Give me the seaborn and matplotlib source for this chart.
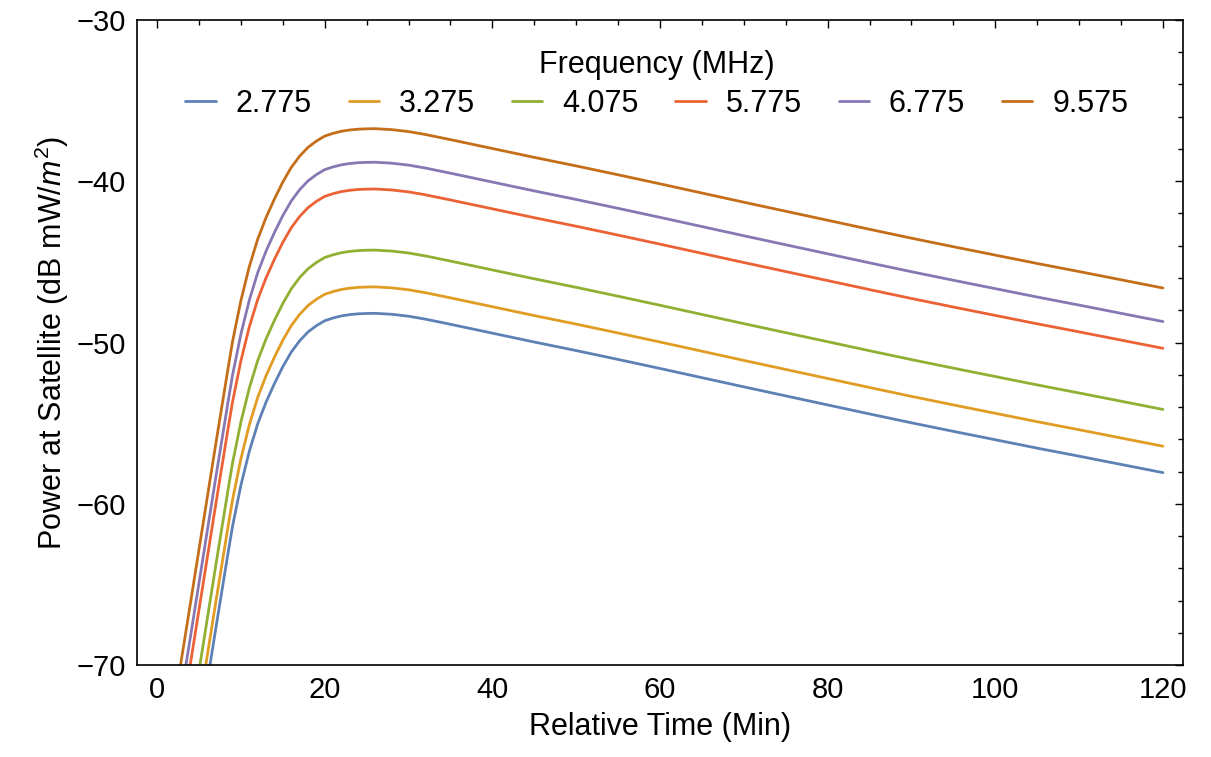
import matplotlib
matplotlib.use("Agg")
import matplotlib.pyplot as plt
from matplotlib.ticker import MultipleLocator
import pandas as pd
import seaborn as sns

# ---- data ----
frequencies = ["2.775", "3.275", "4.075", "5.775", "6.775", "9.575"]
line_colors = ["#5E81B5", "#E19C24", "#8FB032", "#EB6235", "#8778B3", "#C56E1A"]

time_min = [2.8, 4, 5.5, 7, 8.5, 9, 10, 11, 12, 13, 14, 15, 16, 17, 18, 19, 20,
            21, 22, 23, 24, 25, 26, 28, 30, 32, 35, 40, 45, 50, 55, 60, 65, 70,
            75, 80, 85, 90, 95, 100, 105, 110, 115, 120]

power_2775 = [-81.45, -77.55, -72.65, -67.75, -62.95, -61.4, -58.85, -56.75, -55.05,
              -53.7, -52.55, -51.5, -50.6, -49.9, -49.35, -48.96, -48.65,
              -48.48, -48.35, -48.27, -48.22, -48.2, -48.19, -48.25, -48.37, -48.55,
              -48.87, -49.42, -49.97, -50.5, -51.05, -51.61, -52.18, -52.75,
              -53.31, -53.87, -54.43, -54.98, -55.51, -56.03, -56.55, -57.05, -57.56, -58.07]
power_3275 = [-79.81, -75.91, -71.01, -66.11, -61.31, -59.76, -57.21, -55.11, -53.41,
              -52.06, -50.91, -49.86, -48.96, -48.26, -47.71, -47.32, -47.01,
              -46.84, -46.71, -46.63, -46.58, -46.56, -46.55, -46.61, -46.73, -46.91,
              -47.23, -47.78, -48.33, -48.86, -49.41, -49.97, -50.54, -51.11,
              -51.67, -52.23, -52.79, -53.34, -53.87, -54.39, -54.91, -55.41, -55.92, -56.43]
power_4075 = [-77.53, -73.63, -68.73, -63.83, -59.03, -57.48, -54.93, -52.83, -51.13,
              -49.78, -48.63, -47.58, -46.68, -45.98, -45.43, -45.04, -44.73,
              -44.56, -44.43, -44.35, -44.3, -44.28, -44.27, -44.33, -44.45, -44.63,
              -44.95, -45.5, -46.05, -46.58, -47.13, -47.69, -48.26, -48.83,
              -49.39, -49.95, -50.51, -51.06, -51.59, -52.11, -52.63, -53.13, -53.64, -54.15]
power_5775 = [-73.74, -69.84, -64.94, -60.04, -55.24, -53.69, -51.14, -49.04, -47.34,
              -45.99, -44.84, -43.79, -42.89, -42.19, -41.64, -41.25, -40.94,
              -40.77, -40.64, -40.56, -40.51, -40.49, -40.48, -40.54, -40.66, -40.84,
              -41.16, -41.71, -42.26, -42.79, -43.34, -43.9, -44.47, -45.04,
              -45.6, -46.16, -46.72, -47.27, -47.8, -48.32, -48.84, -49.34, -49.85, -50.36]
power_6775 = [-72.08, -68.18, -63.28, -58.38, -53.58, -52.03, -49.48, -47.38, -45.68,
              -44.33, -43.18, -42.13, -41.23, -40.53, -39.98, -39.59, -39.28,
              -39.11, -38.98, -38.9, -38.85, -38.83, -38.82, -38.88, -39.0, -39.18,
              -39.5, -40.05, -40.6, -41.13, -41.68, -42.24, -42.81, -43.38,
              -43.94, -44.5, -45.06, -45.61, -46.14, -46.66, -47.18, -47.68, -48.19, -48.7]
power_9575 = [-70.0, -66.1, -61.2, -56.3, -51.5, -49.95, -47.4, -45.3, -43.6,
              -42.25, -41.1, -40.05, -39.15, -38.45, -37.9, -37.51, -37.2,
              -37.03, -36.9, -36.82, -36.77, -36.75, -36.74, -36.8, -36.92, -37.1,
              -37.42, -37.97, -38.52, -39.05, -39.6, -40.16, -40.73, -41.3,
              -41.86, -42.42, -42.98, -43.53, -44.06, -44.58, -45.1, -45.6, -46.11, -46.62]

series = [power_2775, power_3275, power_4075, power_5775, power_6775, power_9575]
df = pd.concat(
    [pd.DataFrame({"t": time_min, "p": vals, "freq": f}) for f, vals in zip(frequencies, series)],
    ignore_index=True,
)

# ---- style ----
sns.set_style("white")
plt.rcParams["font.family"] = ["Liberation Sans", "DejaVu Sans"]
plt.rcParams["mathtext.fontset"] = "custom"
plt.rcParams["mathtext.rm"] = "Liberation Sans"
plt.rcParams["mathtext.it"] = "Liberation Sans:italic"
plt.rcParams["text.color"] = "black"
plt.rcParams["axes.labelcolor"] = "black"

fig = plt.figure(figsize=(12.11, 7.57), dpi=100)
ax = fig.add_axes([0.1131, 0.1215, 0.8638, 0.8521])

sns.lineplot(data=df, x="t", y="p", hue="freq", hue_order=frequencies,
             palette=line_colors, linewidth=2, estimator=None, sort=False, ax=ax)

ax.set_xlim(-2.4, 122.4)
ax.set_ylim(-70, -30)
ax.xaxis.set_major_locator(MultipleLocator(20))
ax.xaxis.set_minor_locator(MultipleLocator(5))
ax.yaxis.set_major_locator(MultipleLocator(10))
ax.yaxis.set_minor_locator(MultipleLocator(2))
ax.tick_params(which="both", direction="in", top=True, right=True, colors="black",
               labelsize=21, width=1.0)
ax.tick_params(which="major", length=6, pad=8)
ax.tick_params(which="minor", length=3.5)
for sp in ax.spines.values():
    sp.set_color("black")
    sp.set_linewidth(1.2)

ax.set_xlabel("Relative Time (Min)", fontsize=22, labelpad=6)
ax.set_ylabel(r"Power at Satellite (dB mW/$m^2$)", fontsize=22, labelpad=4)

leg = ax.legend(title="Frequency (MHz)", ncol=6, loc="upper center",
                bbox_to_anchor=(0.497, 0.982), frameon=False, fontsize=22,
                title_fontsize=22, handlelength=1.0, handletextpad=0.65,
                columnspacing=1.2, borderaxespad=0.2, labelspacing=0.3)
for h in leg.get_lines():
    h.set_linewidth(2)

fig.savefig("out.png", dpi=100)
